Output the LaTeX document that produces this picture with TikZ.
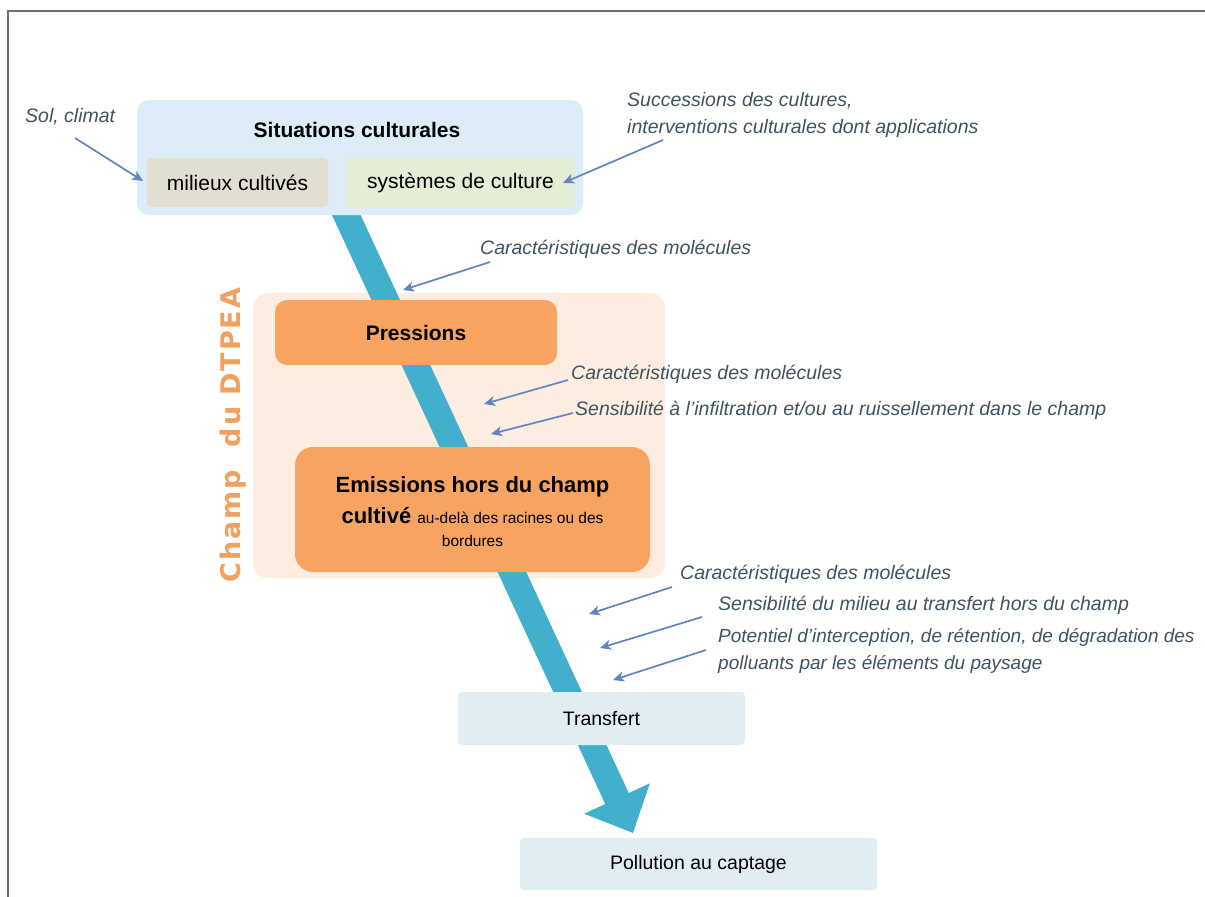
\documentclass[tikz,border=0pt]{standalone}
\usepackage{fontspec}
\setmainfont{Liberation Sans}
\newfontfamily\champfont{DejaVu Sans}
\usetikzlibrary{arrows.meta}
\definecolor{sitblue}{RGB}{220,237,247}
\definecolor{milbg}{RGB}{226,222,210}
\definecolor{sysbg}{RGB}{228,237,214}
\definecolor{paleor}{RGB}{253,237,225}
\definecolor{orbox}{RGB}{247,164,98}
\definecolor{bandc}{RGB}{66,176,205}
\definecolor{champc}{RGB}{240,160,95}
\definecolor{lowbox}{RGB}{224,238,244}
\definecolor{labc}{RGB}{62,84,98}
\definecolor{arrc}{RGB}{96,134,194}
\definecolor{framec}{RGB}{110,110,110}
\tikzset{
  boxbase/.style={inner sep=0pt, outer sep=0pt},
  lab/.style={anchor=west, inner sep=0pt, text=labc, font=\fontsize{19.5}{27}\selectfont\itshape, align=left},
  inarrow/.style={draw=arrc, line width=1.7pt, -{Stealth[length=11pt,width=10pt,inset=3pt]}},
}
\begin{document}
\begin{tikzpicture}[x=1pt,y=-1pt]
\useasboundingbox (0,0) rectangle (1205,897);
\fill[white] (0,0) rectangle (1205,897);
\draw[framec, line width=1.3pt] (8,897) -- (8,11) -- (1205,11);

% pale orange field
\node[boxbase, fill=paleor, rounded corners=15pt, minimum width=412pt, minimum height=285pt] (champ) at (459,435.5) {};
\node[rotate=90, text=champc, inner sep=0pt, font=\champfont\bfseries\fontsize{27}{30}\selectfont\addfontfeature{LetterSpace=7}] (champlab) at (233,435) {Champ\ \ du DTPEA};

% band arrow
\coordinate (bs) at (337,195);
\coordinate (bt) at (633,833);
\draw[bandc, line width=26pt, -{Triangle[width=70pt,length=38pt]}] (bs) -- (bt);

% top box
\node[boxbase, fill=sitblue, rounded corners=12pt, minimum width=446pt, minimum height=115pt] (sit) at (360,157.5) {};
\node[inner sep=0pt, font=\fontsize{21}{25}\selectfont\bfseries] (sittitle) at (357,130) {Situations culturales};
\node[boxbase, fill=milbg, rounded corners=4pt, minimum width=181pt, minimum height=49pt, font=\fontsize{21}{25}\selectfont] (mil) at (237.5,182.5) {milieux cultivés};
\node[boxbase, fill=sysbg, rounded corners=4pt, minimum width=229pt, minimum height=49pt, font=\fontsize{21}{25}\selectfont] (sys) at (460.5,182.5) {systèmes de culture};

% orange boxes
\node[boxbase, fill=orbox, rounded corners=12pt, minimum width=282pt, minimum height=65pt, font=\fontsize{21}{25}\selectfont\bfseries] (press) at (416,332.5) {Pressions};
\node[boxbase, fill=orbox, rounded corners=18pt, minimum width=355pt, minimum height=125pt] (emis) at (472.5,509.5) {};
\node[inner sep=0pt, align=center, font=\fontsize{22}{26}\selectfont\bfseries] (emistxt) at (472.5,512) {Emissions hors du champ\\[5pt]
cultivé {\mdseries\fontsize{15.5}{18}\selectfont au-delà des racines ou des}\\[-3pt]
{\mdseries\fontsize{15.5}{18}\selectfont bordures}};

% lower boxes
\node[boxbase, fill=lowbox, rounded corners=4pt, minimum width=287pt, minimum height=53pt, font=\fontsize{19.5}{23}\selectfont] (trans) at (601.5,718.5) {Transfert};
\node[boxbase, fill=lowbox, rounded corners=4pt, minimum width=357pt, minimum height=52pt, font=\fontsize{19.5}{23}\selectfont] (poll) at (698.5,864) {Pollution au captage};

% labels
\node[lab] (sol) at (25,117) {Sol, climat};
\node[lab] (succ) at (627,114.5) {Successions des cultures,\\interventions culturales dont applications};
\node[lab] (car1) at (480,249) {Caractéristiques des molécules};
\node[lab] (car2) at (571,374) {Caractéristiques des molécules};
\node[lab] (sens1) at (575,410) {Sensibilité à l’infiltration et/ou au ruissellement dans le champ};
\node[lab] (car3) at (680,574) {Caractéristiques des molécules};
\node[lab] (sens2) at (718,605) {Sensibilité du milieu au transfert hors du champ};
\node[lab, font=\fontsize{19}{27}\selectfont\itshape] (pot) at (718,650.5) {Potentiel d’interception, de rétention, de dégradation des\\polluants par les éléments du paysage};

% small arrows
\coordinate (a1s) at (75,138);   \coordinate (a1e) at (143,181);
\coordinate (a2s) at (663,140);  \coordinate (a2e) at (563,183);
\coordinate (a3s) at (490,262);  \coordinate (a3e) at (403,290);
\coordinate (a4s) at (568,380);  \coordinate (a4e) at (484,404);
\coordinate (a5s) at (573,413);  \coordinate (a5e) at (491,434);
\coordinate (a6s) at (672,587);  \coordinate (a6e) at (589,614);
\coordinate (a7s) at (702,617);  \coordinate (a7e) at (600,648);
\coordinate (a8s) at (706,650);  \coordinate (a8e) at (613,680);
\draw[inarrow] (a1s) -- (a1e);
\draw[inarrow] (a2s) -- (a2e);
\draw[inarrow] (a3s) -- (a3e);
\draw[inarrow] (a4s) -- (a4e);
\draw[inarrow] (a5s) -- (a5e);
\draw[inarrow] (a6s) -- (a6e);
\draw[inarrow] (a7s) -- (a7e);
\draw[inarrow] (a8s) -- (a8e);
\end{tikzpicture}
\end{document}
